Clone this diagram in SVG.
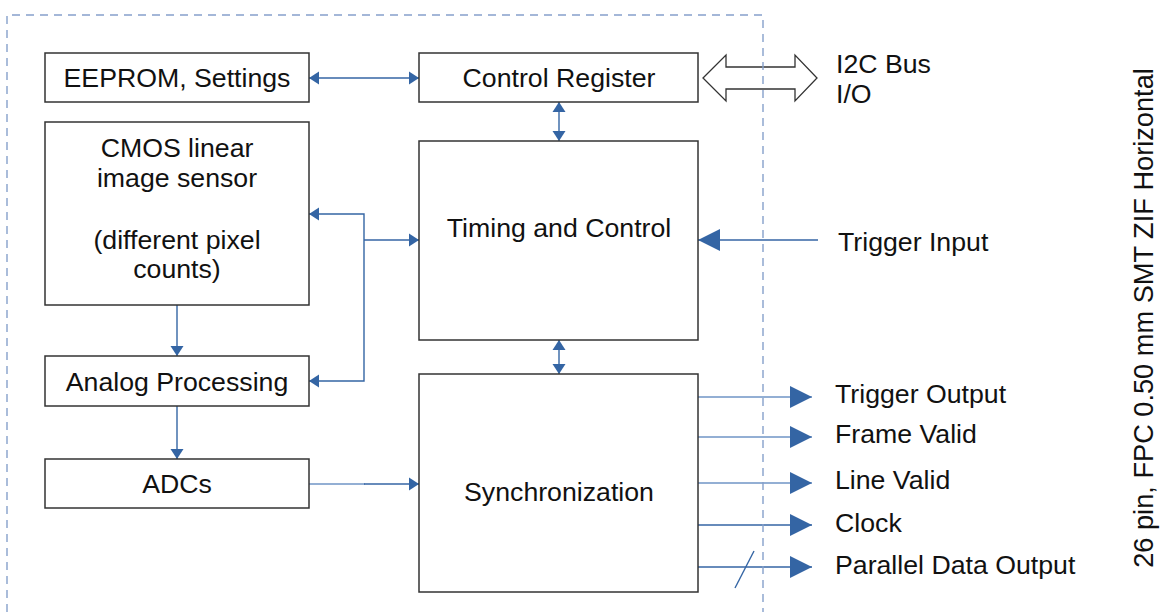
<svg xmlns="http://www.w3.org/2000/svg" width="1163" height="612" viewBox="0 0 1163 612">
<style>
.box{fill:#ffffff;stroke:#333333;stroke-width:1.5}
.t{font-family:"Liberation Sans",Arial,sans-serif;font-size:26.7px;fill:#111111}
.c{text-anchor:middle}
.ln{fill:none;stroke:#3465a4;stroke-width:1.4}
.lt{fill:none;stroke:#6f94c6;stroke-width:1.6}
</style>
<defs>
<marker id="sm" viewBox="0 -7 10 14" refX="10" refY="0" markerWidth="10" markerHeight="14" markerUnits="userSpaceOnUse" orient="auto-start-reverse">
<path d="M0,-6.5 L10,0 L0,6.5 z" fill="#3465a4"/>
</marker>
<marker id="lg" viewBox="0 -11 22 22" refX="22" refY="0" markerWidth="22" markerHeight="22" markerUnits="userSpaceOnUse" orient="auto-start-reverse">
<path d="M0,-11 L22,0 L0,11 z" fill="#3465a4"/>
</marker>
</defs>

<g id="connectors">
<line class="ln" x1="309" y1="78" x2="419" y2="78" marker-start="url(#sm)" marker-end="url(#sm)"/>
<line class="ln" x1="559" y1="102" x2="559" y2="141" marker-start="url(#sm)" marker-end="url(#sm)"/>
<line class="ln" x1="559" y1="340" x2="559" y2="374" marker-start="url(#sm)" marker-end="url(#sm)"/>
<polyline class="ln" points="309,214 364,214 364,381 309,381" marker-start="url(#sm)" marker-end="url(#sm)"/>
<line class="ln" x1="364" y1="240" x2="419" y2="240" marker-end="url(#sm)"/>
<line class="ln" x1="177" y1="305" x2="177" y2="356" marker-end="url(#sm)"/>
<line class="ln" x1="177" y1="406" x2="177" y2="459" marker-end="url(#sm)"/>
<line class="lt" x1="309" y1="484" x2="365" y2="484"/>
<line class="ln" x1="364" y1="484" x2="419" y2="484" marker-end="url(#sm)"/>
<polygon points="703,78 726,55 726,67 795,67 795,55 817,78 795,101 795,89 726,89 726,101" fill="none" stroke="#333333" stroke-width="1.3"/>
<line class="ln" x1="818" y1="240" x2="698" y2="240" marker-end="url(#lg)"/>
<line class="lt" x1="698" y1="397" x2="812" y2="397" marker-end="url(#lg)"/>
<line class="lt" x1="698" y1="437" x2="812" y2="437" marker-end="url(#lg)"/>
<line class="lt" x1="698" y1="483" x2="812" y2="483" marker-end="url(#lg)"/>
<line class="ln" x1="698" y1="525" x2="812" y2="525" marker-end="url(#lg)"/>
<line class="ln" x1="698" y1="567" x2="812" y2="567" marker-end="url(#lg)"/>
<line class="ln" x1="735" y1="588" x2="754" y2="551" stroke-width="2"/>
</g>

<path d="M7,612 L7,15 L763,15 L763,612" fill="none" stroke="#86a0cb" stroke-width="1.4" stroke-dasharray="8,6"/>

<g id="eeprom">
<rect class="box" x="45" y="53" width="264" height="49"/>
<text class="t c" x="177" y="87">EEPROM, Settings</text>
</g>
<g id="control-register">
<rect class="box" x="419" y="53" width="279" height="49"/>
<text class="t c" x="559" y="87">Control Register</text>
</g>
<g id="cmos">
<rect class="box" x="45" y="122" width="264" height="183"/>
<text class="t c" x="177" y="157">CMOS linear</text>
<text class="t c" x="177" y="187">image sensor</text>
<text class="t c" x="177" y="249">(different pixel</text>
<text class="t c" x="177" y="278">counts)</text>
</g>
<g id="timing">
<rect class="box" x="419" y="141" width="279" height="199"/>
<text class="t c" x="559" y="237">Timing and Control</text>
</g>
<g id="analog">
<rect class="box" x="45" y="356" width="264" height="50"/>
<text class="t c" x="177" y="391">Analog Processing</text>
</g>
<g id="adcs">
<rect class="box" x="45" y="459" width="264" height="49"/>
<text class="t c" x="177" y="493">ADCs</text>
</g>
<g id="sync">
<rect class="box" x="419" y="374" width="279" height="218"/>
<text class="t c" x="559" y="501">Synchronization</text>
</g>

<g id="labels">
<text class="t" x="836" y="73">I2C Bus</text>
<text class="t" x="836" y="103">I/O</text>
<text class="t" x="838" y="251">Trigger Input</text>
<text class="t" x="835" y="403">Trigger Output</text>
<text class="t" x="835" y="443">Frame Valid</text>
<text class="t" x="835" y="489">Line Valid</text>
<text class="t" x="835" y="532">Clock</text>
<text class="t" x="835" y="574">Parallel Data Output</text>
<text class="t c" style="font-size:27.2px" transform="translate(1153,318) rotate(-90)" x="0" y="0">26 pin, FPC 0.50 mm SMT ZIF Horizontal</text>
</g>
</svg>
